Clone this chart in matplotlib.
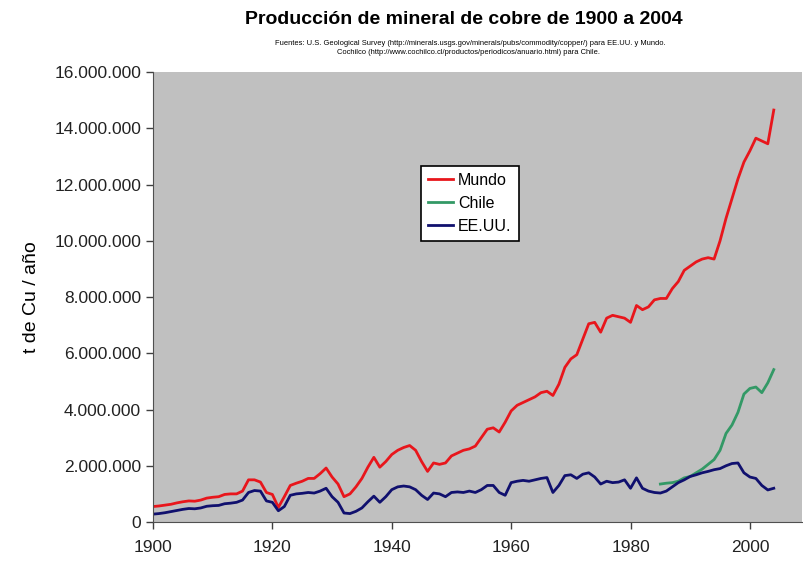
import numpy as np
import matplotlib
matplotlib.use("Agg")
import matplotlib.pyplot as plt
from matplotlib.ticker import FuncFormatter

plt.rcParams.update({
    "font.family": ["Liberation Sans", "DejaVu Sans"],
    "font.size": 12
})

# produccion en millones de t de Cu
anios = np.arange(1900, 2005)
mundo = [0.55, 0.57, 0.60, 0.63, 0.68, 0.72, 0.75, 0.74, 0.78, 0.85,
         0.88, 0.90, 0.98, 1.00, 1.00, 1.10, 1.50, 1.50, 1.42, 1.05,
         0.98, 0.52, 0.90, 1.30, 1.38, 1.45, 1.55, 1.55, 1.72, 1.92,
         1.60, 1.35, 0.90, 1.00, 1.25, 1.55, 1.95, 2.30, 1.95, 2.15,
         2.40, 2.55, 2.65, 2.72, 2.55, 2.15, 1.80, 2.10, 2.05, 2.10,
         2.35, 2.45, 2.55, 2.60, 2.70, 3.00, 3.30, 3.35, 3.20, 3.55,
         3.95, 4.15, 4.25, 4.35, 4.45, 4.60, 4.65, 4.50, 4.90, 5.50,
         5.80, 5.95, 6.50, 7.05, 7.10, 6.75, 7.25, 7.35, 7.30, 7.25,
         7.10, 7.70, 7.55, 7.65, 7.90, 7.95, 7.95, 8.30, 8.55, 8.95,
         9.10, 9.25, 9.35, 9.40, 9.35, 10.00, 10.80, 11.50, 12.20, 12.80,
         13.20, 13.65, 13.55, 13.45, 14.65]
eeuu = [0.28, 0.30, 0.33, 0.37, 0.41, 0.45, 0.48, 0.47, 0.50, 0.56,
        0.58, 0.59, 0.65, 0.67, 0.70, 0.78, 1.05, 1.12, 1.10, 0.75,
        0.70, 0.40, 0.55, 0.95, 1.00, 1.02, 1.05, 1.03, 1.10, 1.20,
        0.90, 0.70, 0.32, 0.30, 0.38, 0.50, 0.72, 0.92, 0.70, 0.90,
        1.15, 1.25, 1.28, 1.25, 1.15, 0.95, 0.80, 1.03, 1.00, 0.90,
        1.05, 1.07, 1.05, 1.10, 1.05, 1.15, 1.30, 1.30, 1.05, 0.95,
        1.40, 1.45, 1.48, 1.45, 1.50, 1.55, 1.58, 1.05, 1.30, 1.65,
        1.68, 1.55, 1.70, 1.75, 1.60, 1.35, 1.45, 1.40, 1.42, 1.50,
        1.20, 1.57, 1.20, 1.10, 1.05, 1.03, 1.10, 1.25, 1.40, 1.50,
        1.62, 1.68, 1.75, 1.80, 1.86, 1.90, 2.00, 2.08, 2.10, 1.75,
        1.60, 1.55, 1.30, 1.14, 1.20]
anios_chile = np.arange(1985, 2005)
chile = [1.35, 1.38, 1.40, 1.45, 1.57, 1.62, 1.75, 1.88, 2.05, 2.22,
         2.55, 3.15, 3.45, 3.90, 4.55, 4.75, 4.80, 4.60, 4.95, 5.42]

mundo = np.array(mundo) * 1e6
eeuu = np.array(eeuu) * 1e6
chile = np.array(chile) * 1e6

fig = plt.figure(figsize=(8.04, 5.61), dpi=100)
ax = fig.add_axes([0.1903, 0.0695, 0.807, 0.802])
ax.set_facecolor('#c0c0c0')

ax.plot(anios, mundo, color='#e8161c', linewidth=2.0, label='Mundo')
ax.plot(anios_chile, chile, color='#339966', linewidth=2.0, label='Chile')
ax.plot(anios, eeuu, color='#10106e', linewidth=2.0, label='EE.UU.')

ax.set_xlim(1900, 2008.7)
ax.set_ylim(0, 16e6)
ax.set_xticks([1900, 1920, 1940, 1960, 1980, 2000])
ax.set_yticks(np.arange(0, 16e6 + 1, 2e6))
ax.yaxis.set_major_formatter(FuncFormatter(lambda v, p: f"{int(v):,}".replace(',', '.')))
ax.tick_params(axis='both', labelsize=12.5, color='#404040', labelcolor='#222222',
               length=5, width=1)
ax.tick_params(axis='x', pad=8)
for s in ['top', 'right']:
    ax.spines[s].set_visible(False)
for s in ['left', 'bottom']:
    ax.spines[s].set_color('#505050')

ax.set_ylabel('t de Cu / año', fontsize=14, labelpad=10)

leg = ax.legend(loc='upper left', bbox_to_anchor=(0.40, 0.81), fontsize=11.5,
                frameon=True, fancybox=False, edgecolor='black', framealpha=1,
                handlelength=1.6, handletextpad=0.3, labelspacing=0.5,
                borderpad=0.45)
leg.get_frame().set_linewidth(1.2)

fig.text(0.577, 0.966, 'Producción de mineral de cobre de 1900 a 2004',
         ha='center', va='center', fontsize=14, fontweight='bold')
fig.text(0.585, 0.923, 'Fuentes: U.S. Geological Survey (http://minerals.usgs.gov/minerals/pubs/commodity/copper/) para EE.UU. y Mundo.',
         ha='center', va='center', fontsize=5.4)
fig.text(0.583, 0.907, 'Cochilco (http://www.cochilco.cl/productos/periodicos/anuario.html) para Chile.',
         ha='center', va='center', fontsize=5.4)

plt.savefig('out.png', dpi=100)
